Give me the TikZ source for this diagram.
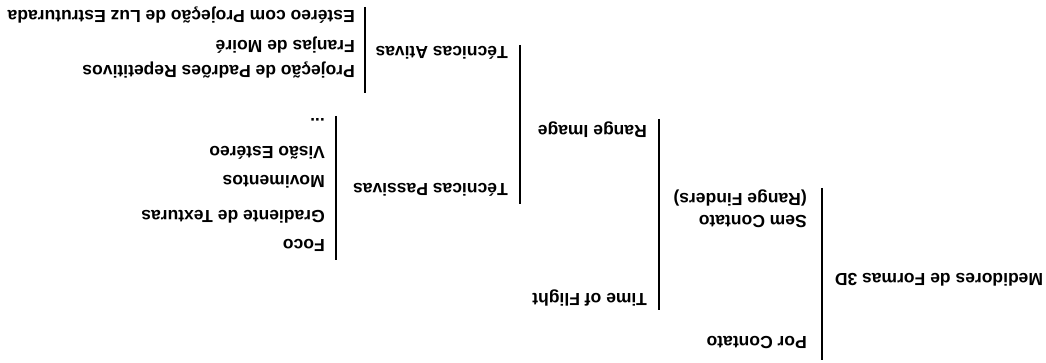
\documentclass[tikz,border=0pt]{standalone}
\usepackage{fontspec}
\setmainfont{Liberation Sans}
\begin{document}
\begin{tikzpicture}[x=1pt,y=1pt,
  lbl/.style={rotate=180, inner sep=0pt, font=\fontsize{17.5}{22}\selectfont\bfseries, text height=12.6pt, text depth=0pt},
  lbltwo/.style={rotate=180, inner sep=0pt, font=\fontsize{17.5}{22}\selectfont\bfseries, align=left},
  bar/.style={line width=1.6pt, black}]
\useasboundingbox (0,0) rectangle (1046,-363);
% root
\node[lbl] (root) at (939,-280) {Medidores de Formas 3D};
\coordinate (b0t) at (822,-188);
\coordinate (b0b) at (822,-360);
\draw[bar] (b0t) -- (b0b);
\node[lbl, anchor=west] (por) at (807,-343) {Por Contato};
\node[lbltwo, anchor=west] (sem) at (807,-209) {Sem Contato\\(Range Finders)};
% level 2
\coordinate (b1t) at (659,-119);
\coordinate (b1b) at (659,-310);
\draw[bar] (b1t) -- (b1b);
\node[lbl, anchor=west] (tof) at (647,-300) {Time of Flight};
\node[lbl, anchor=west] (ri) at (647,-132) {Range Image};
% level 3
\coordinate (b2t) at (520,-45);
\coordinate (b2b) at (520,-204);
\draw[bar] (b2t) -- (b2b);
\node[lbl, anchor=west] (tp) at (508,-190) {Técnicas Passivas};
\node[lbl, anchor=west] (ta) at (508,-53) {Técnicas Ativas};
% passivas
\coordinate (b3t) at (336,-116);
\coordinate (b3b) at (336,-260);
\draw[bar] (b3t) -- (b3b);
\node[lbl, anchor=west] (p1) at (325,-246) {Foco};
\node[lbl, anchor=west] (p2) at (325,-217) {Gradiente de Texturas};
\node[lbl, anchor=west] (p3) at (325,-182) {Movimentos};
\node[lbl, anchor=west] (p4) at (325,-153) {Visão Estéreo};
\node[lbl, anchor=west] (p5) at (325,-125) {...};
% ativas
\coordinate (b4t) at (365,-7);
\coordinate (b4b) at (365,-93);
\draw[bar] (b4t) -- (b4b);
\node[lbl, anchor=west] (a1) at (355,-72) {Projeção de Padrões Repetitivos};
\node[lbl, anchor=west] (a2) at (355,-47) {Franjas de Moiré};
\node[lbl, anchor=west] (a3) at (355,-17) {Estéreo com Projeção de Luz Estruturada};
\end{tikzpicture}
\end{document}
